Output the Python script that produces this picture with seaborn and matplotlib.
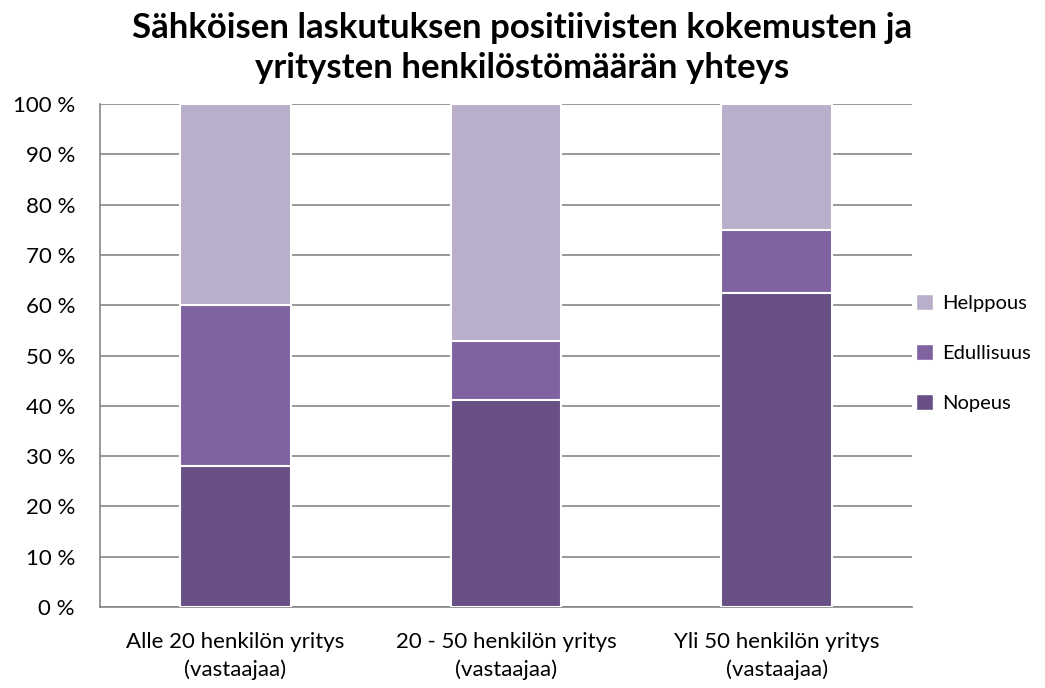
import pandas as pd
import numpy as np
import matplotlib
matplotlib.use("Agg")
import matplotlib.pyplot as plt
import seaborn as sns
from matplotlib.ticker import FixedLocator
from matplotlib.patches import Patch

# Data (share of answers, %)
categories = ["Alle 20 henkilön yritys\n(vastaajaa)",
              "20 - 50 henkilön yritys\n(vastaajaa)",
              "Yli 50 henkilön yritys\n(vastaajaa)"]
nopeus = [28.0, 41.2, 62.5]
edullisuus = [32.0, 11.7, 12.5]
helppous = [40.0, 47.1, 25.0]

series = ["Nopeus", "Edullisuus", "Helppous"]
colors = {"Nopeus": "#684f86", "Edullisuus": "#7f63a0", "Helppous": "#b9afcb"}

df = pd.DataFrame({"Kategoria": categories, "Nopeus": nopeus,
                   "Edullisuus": edullisuus, "Helppous": helppous})
# cumulative tops for stacking
df["cum_Nopeus"] = df["Nopeus"]
df["cum_Edullisuus"] = df["Nopeus"] + df["Edullisuus"]
df["cum_Helppous"] = df["cum_Edullisuus"] + df["Helppous"]

sns.set_style("white")
plt.rcParams["font.family"] = ["Lato", "DejaVu Sans"]
plt.rcParams["text.color"] = "black"

fig = plt.figure(figsize=(10.45, 6.88), dpi=100)
ax = fig.add_axes([100 / 1045, 1 - 607 / 688, 812 / 1045, 503 / 688])

# draw from the top layer down so lower segments sit on top
for s in reversed(series):
    sns.barplot(data=df, x="Kategoria", y="cum_" + s, color=colors[s],
                width=0.41, edgecolor="white", linewidth=1.5,
                saturation=1, ax=ax, zorder=3)

ax.set_ylim(0, 100)
ax.set_xlim(-0.5, 2.5)
ax.set_yticks(np.arange(0, 101, 10))
ax.set_yticklabels([f"{v} %" for v in range(0, 101, 10)])
ax.yaxis.grid(True, color="#868686", linewidth=1.2, zorder=0)
ax.set_axisbelow(True)
ax.set_xlabel("")
ax.set_ylabel("")

for side in ["top", "right"]:
    ax.spines[side].set_visible(False)
for side in ["left", "bottom"]:
    ax.spines[side].set_color("#868686")
    ax.spines[side].set_linewidth(1.2)

ax.tick_params(axis="y", length=6, color="#868686", width=1.2, labelsize=16, pad=12,
               labelcolor="black")
ax.tick_params(axis="x", which="major", length=0, labelsize=16, pad=18, labelcolor="black")
for lbl in ax.get_xticklabels():
    lbl.set_linespacing(1.45)
ax.xaxis.set_minor_locator(FixedLocator([-0.5, 0.5, 1.5, 2.5]))
ax.tick_params(axis="x", which="minor", length=6, color="#868686", width=1.2)

handles = [Patch(facecolor=colors[s], edgecolor="white", label=s) for s in reversed(series)]
fig.legend(handles=handles, loc="center left", bbox_to_anchor=(908 / 1045, 1 - 353 / 688),
           frameon=False, fontsize=14.5, handlelength=0.85, handleheight=0.85,
           handletextpad=0.45, labelspacing=1.6, borderaxespad=0)

fig.suptitle("Sähköisen laskutuksen positiivisten kokemusten ja\nyritysten henkilöstömäärän yhteys",
             fontsize=25, fontweight="bold", y=0.982, linespacing=1.3)

fig.savefig("out.png", dpi=100)
